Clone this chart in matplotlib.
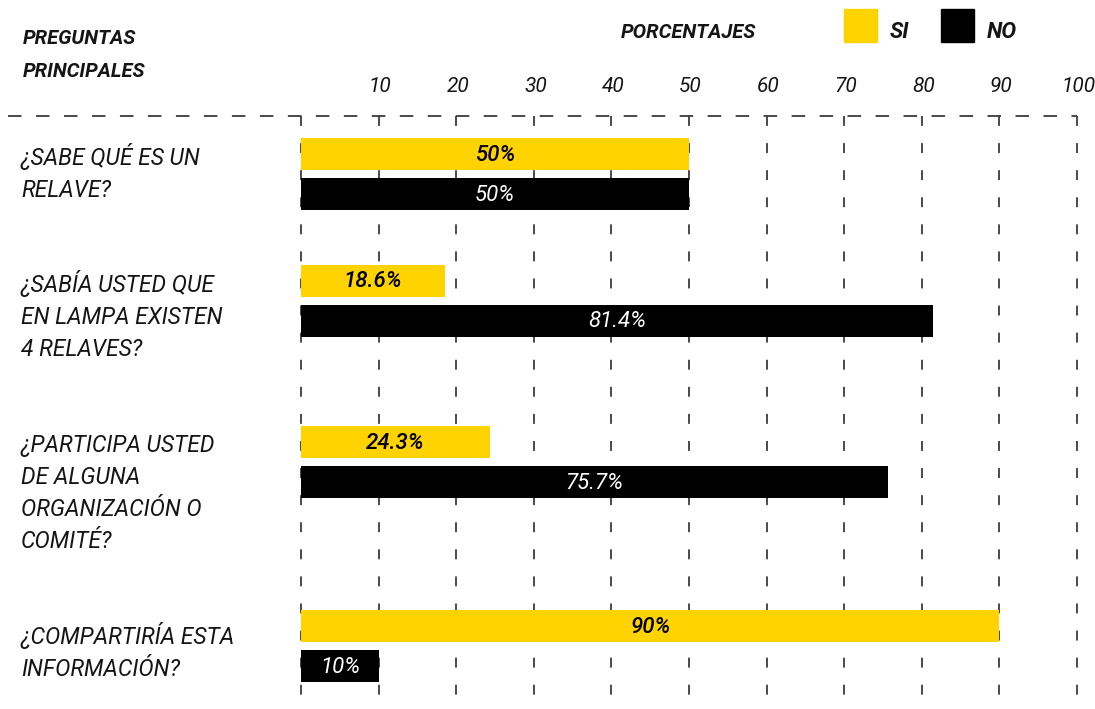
import matplotlib
matplotlib.use("Agg")
import matplotlib.pyplot as plt
from matplotlib.lines import Line2D
from matplotlib.patches import Rectangle

plt.rcParams['font.family'] = ['Roboto', 'DejaVu Sans']

questions = [
    ["¿SABE QUÉ ES UN", "RELAVE?"],
    ["¿SABÍA USTED QUE", "EN LAMPA EXISTEN", "4 RELAVES?"],
    ["¿PARTICIPA USTED", "DE ALGUNA", "ORGANIZACIÓN O", "COMITÉ?"],
    ["¿COMPARTIRÍA ESTA", "INFORMACIÓN?"],
]
si_values = [50, 18.6, 24.3, 90]
no_values = [50, 81.4, 75.7, 10]
si_labels = ["50%", "18.6%", "24.3%", "90%"]
no_labels = ["50%", "81.4%", "75.7%", "10%"]
ticks = [10, 20, 30, 40, 50, 60, 70, 80, 90, 100]

# layout, in pixels from the top of the figure
W, H = 1095, 709
group_y = [174, 300.5, 462, 646]
label_base = [165, 292, 452, 644]
line_pitch = 32
bar_h = 32
bar_off = 20
top_line = 116

YELLOW = '#FED300'
GRID = '#3c3c3c'
TEXT = '#151515'


def main():
    fig = plt.figure(figsize=(W / 100, H / 100), dpi=100)
    ax = fig.add_axes([301 / W, 0, 776 / W, (H - top_line) / H])
    ax.set_xlim(0, 100)
    ax.set_ylim(H, top_line)
    ax.axis('off')

    # dashed grid
    for v in [0] + ticks:
        ax.plot([v, v], [top_line, H], color=GRID, lw=1.3,
                dashes=(5.5, 9.5), zorder=1, clip_on=False)
        if v:
            ax.text(v + 0.2, 92, str(v), ha='center', va='baseline',
                    fontsize=15, style='italic', color=TEXT)
    fig.add_artist(Line2D([8 / W, 1077 / W], [1 - top_line / H] * 2,
                          color=GRID, lw=1.3, dashes=(7.5, 8)))

    y_si = [g - bar_off for g in group_y]
    y_no = [g + bar_off for g in group_y]
    ax.barh(y_si, si_values, height=bar_h, color=YELLOW, zorder=2)
    ax.barh(y_no, no_values, height=bar_h, color='black', zorder=2)
    for y, v, t in zip(y_si, si_values, si_labels):
        ax.text(v / 2, y + 1, t, ha='center', va='center', fontsize=16,
                style='italic', fontweight='medium', color='black', zorder=3)
    for y, v, t in zip(y_no, no_values, no_labels):
        ax.text(v / 2, y + 1, t, ha='center', va='center', fontsize=16,
                style='italic', color='white', zorder=3)

    # question labels
    for lines, base in zip(questions, label_base):
        for i, line in enumerate(lines):
            fig.text(21 / W, 1 - (base + i * line_pitch) / H, line,
                     ha='left', va='baseline', fontsize=16.5,
                     style='italic', color=TEXT)

    # header
    head = dict(fontsize=14.5, style='italic', fontweight='bold',
                va='baseline', color=TEXT)
    fig.text(23 / W, 1 - 44 / H, "PREGUNTAS", **head)
    fig.text(23 / W, 1 - 77 / H, "PRINCIPALES", **head)
    fig.text(621 / W, 1 - 37.5 / H, "PORCENTAJES", **head)

    # legend
    fig.add_artist(Rectangle((844 / W, 1 - 42 / H), 33 / W, 33 / H,
                             color=YELLOW, transform=fig.transFigure))
    fig.add_artist(Rectangle((941 / W, 1 - 42 / H), 33 / W, 33 / H,
                             color='black', transform=fig.transFigure))
    fig.text(890 / W, 1 - 37.5 / H, "SI", fontsize=16, style='italic',
             fontweight='bold', va='baseline', color=TEXT)
    fig.text(987 / W, 1 - 37.5 / H, "NO", fontsize=16, style='italic',
             fontweight='bold', va='baseline', color=TEXT)

    fig.savefig('out.png', dpi=100)


if __name__ == '__main__':
    main()
